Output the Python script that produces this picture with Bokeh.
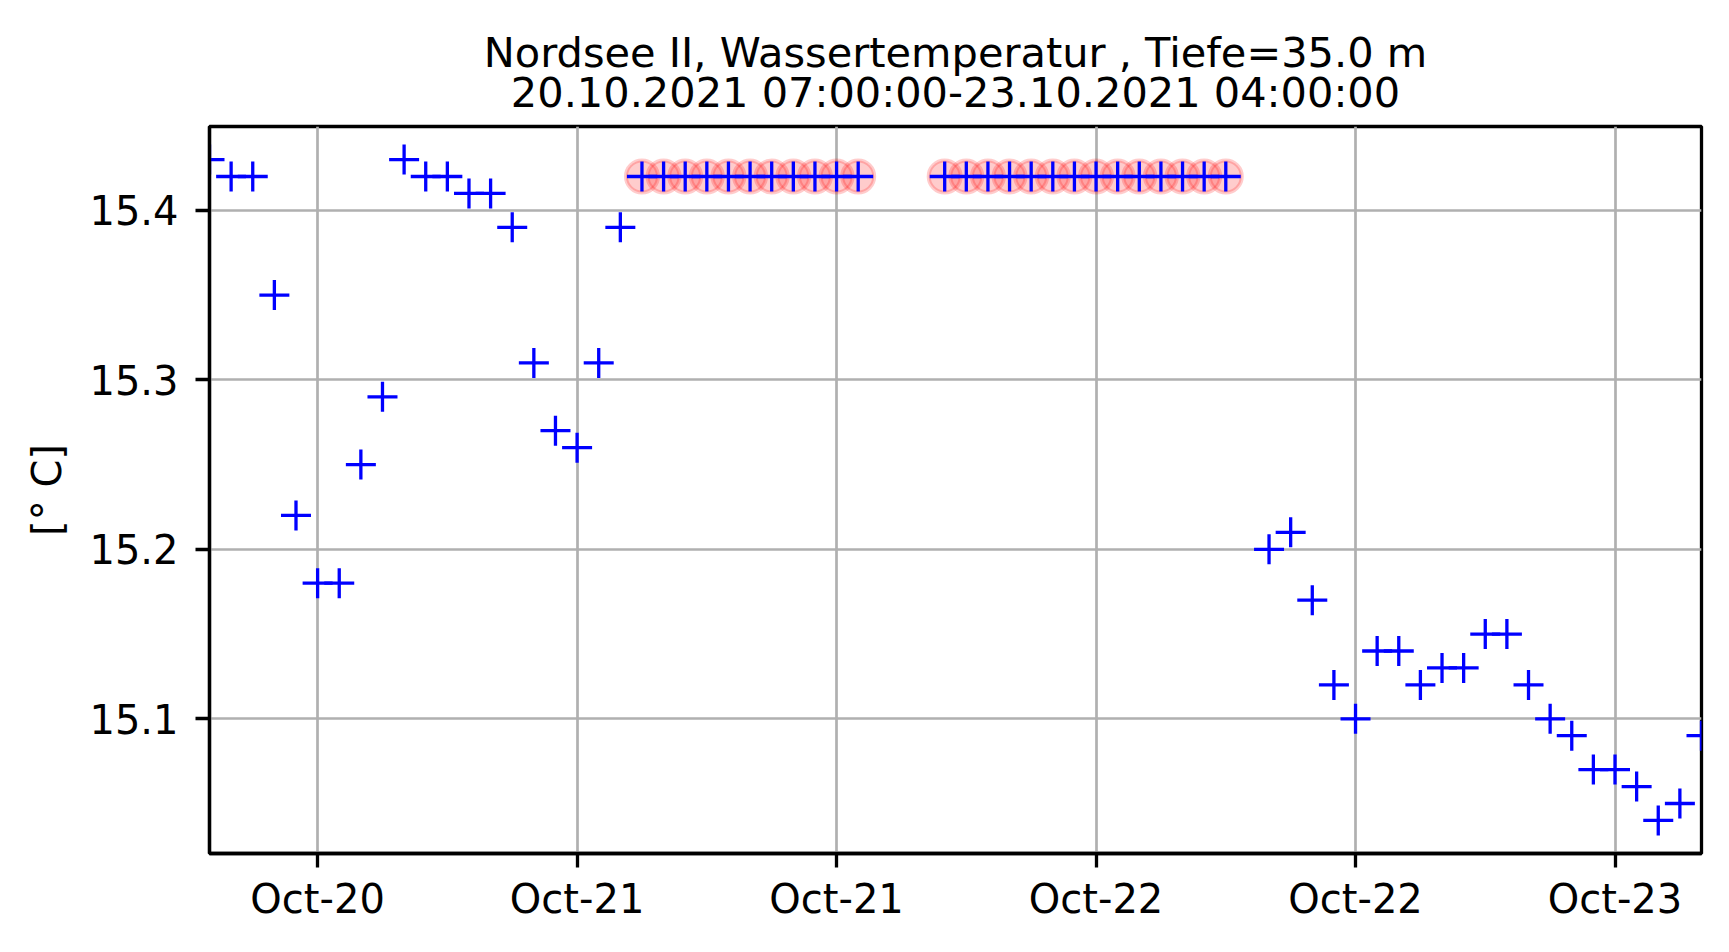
import pandas as pd
from bokeh.plotting import figure
from bokeh.models import Range1d, FixedTicker, DatetimeTickFormatter, Title, ColumnDataSource
from bokeh.embed import file_html
from bokeh.resources import INLINE

# ---- data ----
title_line1 = "Nordsee II, Wassertemperatur , Tiefe=35.0 m"
title_line2 = "20.10.2021 07:00:00-23.10.2021 04:00:00"
y_label = "[° C]"

times = [
    "2021-10-20 07:00", "2021-10-20 08:00", "2021-10-20 09:00", "2021-10-20 10:00",
    "2021-10-20 11:00", "2021-10-20 12:00", "2021-10-20 13:00", "2021-10-20 14:00",
    "2021-10-20 15:00", "2021-10-20 16:00", "2021-10-20 17:00", "2021-10-20 18:00",
    "2021-10-20 19:00", "2021-10-20 20:00", "2021-10-20 21:00", "2021-10-20 22:00",
    "2021-10-20 23:00", "2021-10-21 00:00", "2021-10-21 01:00", "2021-10-21 02:00",
    "2021-10-21 03:00", "2021-10-21 04:00", "2021-10-21 05:00", "2021-10-21 06:00",
    "2021-10-21 07:00", "2021-10-21 08:00", "2021-10-21 09:00", "2021-10-21 10:00",
    "2021-10-21 11:00", "2021-10-21 12:00", "2021-10-21 13:00",
    "2021-10-21 17:00", "2021-10-21 18:00", "2021-10-21 19:00", "2021-10-21 20:00",
    "2021-10-21 21:00", "2021-10-21 22:00", "2021-10-21 23:00", "2021-10-22 00:00",
    "2021-10-22 01:00", "2021-10-22 02:00", "2021-10-22 03:00", "2021-10-22 04:00",
    "2021-10-22 05:00", "2021-10-22 06:00",
    "2021-10-22 08:00", "2021-10-22 09:00", "2021-10-22 10:00", "2021-10-22 11:00",
    "2021-10-22 12:00", "2021-10-22 13:00", "2021-10-22 14:00", "2021-10-22 15:00",
    "2021-10-22 16:00", "2021-10-22 17:00", "2021-10-22 18:00", "2021-10-22 19:00",
    "2021-10-22 20:00", "2021-10-22 21:00", "2021-10-22 22:00", "2021-10-22 23:00",
    "2021-10-23 00:00", "2021-10-23 01:00", "2021-10-23 02:00", "2021-10-23 03:00",
    "2021-10-23 04:00",
]

temps = [
    15.43, 15.42, 15.42, 15.35, 15.22, 15.18, 15.18, 15.25,
    15.29, 15.43, 15.42, 15.42, 15.41, 15.41, 15.39, 15.31,
    15.27, 15.26, 15.31, 15.39, 15.42, 15.42, 15.42, 15.42,
    15.42, 15.42, 15.42, 15.42, 15.42, 15.42, 15.42,
    15.42, 15.42, 15.42, 15.42, 15.42, 15.42, 15.42, 15.42,
    15.42, 15.42, 15.42, 15.42, 15.42, 15.42,
    15.20, 15.21, 15.17, 15.12, 15.10, 15.14, 15.14, 15.12,
    15.13, 15.13, 15.15, 15.15, 15.12, 15.10, 15.09, 15.07,
    15.07, 15.06, 15.04, 15.05, 15.09,
]

flagged = [
    False, False, False, False, False, False, False, False,
    False, False, False, False, False, False, False, False,
    False, False, False, False, True, True, True, True,
    True, True, True, True, True, True, True,
    True, True, True, True, True, True, True, True,
    True, True, True, True, True, True,
    False, False, False, False, False, False, False, False,
    False, False, False, False, False, False, False, False,
    False, False, False, False, False,
]

x_tick_times = ["2021-10-20 12:00", "2021-10-21 00:00", "2021-10-21 12:00",
                "2021-10-22 00:00", "2021-10-22 12:00", "2021-10-23 00:00"]
y_ticks = [15.1, 15.2, 15.3, 15.4]

# ---- build ----
t = pd.to_datetime(times)
df = pd.DataFrame({"t": t, "v": temps, "f": flagged})
src_all = ColumnDataSource(df)
src_flag = ColumnDataSource(df[df["f"]])

ymin, ymax = min(temps), max(temps)
pad = 0.05 * (ymax - ymin)

FONT = "DejaVu Sans"

p = figure(width=1721, height=944, x_axis_type="datetime",
           output_backend="svg", toolbar_location=None,
           x_range=Range1d(t.min(), t.max()),
           y_range=Range1d(ymin - pad, ymax + pad),
           min_border_left=209, min_border_right=20,
           min_border_top=126, min_border_bottom=91,
           background_fill_color="white", border_fill_color="white")
p.title = None

# first added title sits closest to the frame
p.add_layout(Title(text=title_line2, align="center", text_font=FONT,
                   text_font_size="41.5px", text_font_style="normal",
                   text_color="black", standoff=19), "above")
p.add_layout(Title(text=title_line1, align="center", text_font=FONT,
                   text_font_size="41.5px", text_font_style="normal",
                   text_color="black", standoff=-40), "above")

p.scatter("t", "v", source=src_flag, marker="circle", size=32,
          fill_color="red", fill_alpha=0.2, line_color="red",
          line_alpha=0.2, line_width=4)
p.scatter("t", "v", source=src_all, marker="cross", size=30,
          line_color="blue", line_width=3.3)

tick_ms = [pd.Timestamp(s).value // 10**6 for s in x_tick_times]
p.xaxis.ticker = FixedTicker(ticks=tick_ms)
fmt = "%b-%d"
p.xaxis.formatter = DatetimeTickFormatter(
    microseconds=fmt, milliseconds=fmt, seconds=fmt, minsec=fmt,
    minutes=fmt, hourmin=fmt, hours=fmt, days=fmt, months=fmt, years=fmt)
p.yaxis.ticker = FixedTicker(ticks=y_ticks)
p.yaxis.axis_label = y_label

for ax in (p.xaxis[0], p.yaxis[0]):
    ax.axis_line_width = 3.3
    ax.axis_line_color = "black"
    ax.major_tick_line_width = 3.3
    ax.major_tick_line_color = "black"
    ax.major_tick_out = 14
    ax.major_tick_in = 0
    ax.minor_tick_out = 0
    ax.minor_tick_in = 0
    ax.major_label_text_font = FONT
    ax.major_label_text_font_size = "40px"
    ax.major_label_text_color = "black"
    ax.axis_label_text_font = FONT
    ax.axis_label_text_font_size = "40px"
    ax.axis_label_text_font_style = "normal"
    ax.axis_label_text_color = "black"

p.xaxis.major_label_standoff = 8
p.yaxis.major_label_standoff = 17
p.yaxis.axis_label_standoff = 16

p.outline_line_color = "black"
p.outline_line_width = 3.3
p.outline_line_alpha = 1.0

for g in (p.xgrid[0], p.ygrid[0]):
    g.grid_line_color = "#b0b0b0"
    g.grid_line_width = 2.7

open("out.html", "w").write(file_html(p, INLINE))
